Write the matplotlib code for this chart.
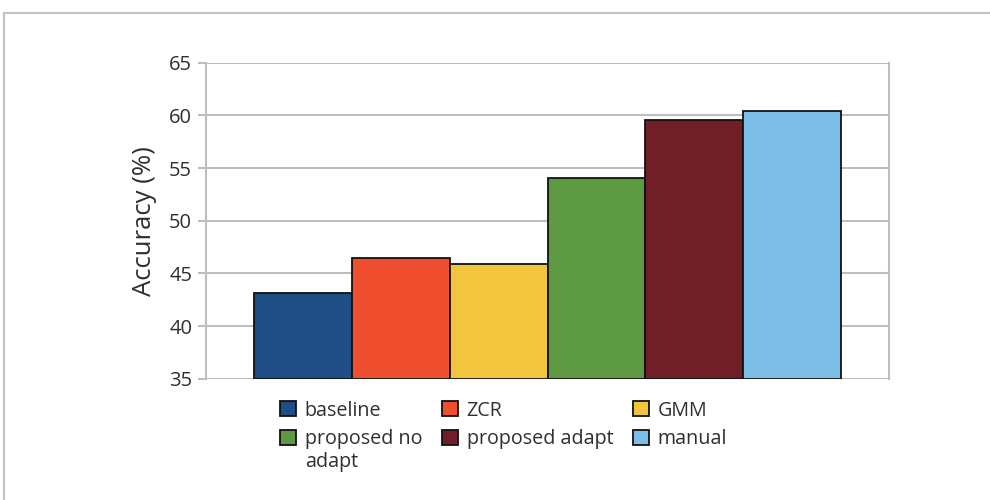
import matplotlib
matplotlib.use("Agg")
import matplotlib.pyplot as plt
from matplotlib.patches import Rectangle, Patch

# Accuracy of each voice-activity method
methods = ["baseline", "ZCR", "GMM", "proposed no adapt", "proposed adapt", "manual"]
accuracy = [43.1, 46.5, 45.85, 54.05, 59.6, 60.4]
colors = ["#1F4E87", "#F04F2F", "#F2C53F", "#5E9A43", "#701E27", "#7BBDE7"]
yticks = [35, 40, 45, 50, 55, 60, 65]

plt.rcParams["font.family"] = ["Open Sans", "DejaVu Sans"]
TEXT = "#2F2F2F"

fig = plt.figure(figsize=(9.9, 5.0), dpi=100)
fig.patch.set_facecolor("white")

# Outer chart-area border (open to the right and bottom)
fig.add_artist(Rectangle((0.004, -0.1), 1.2, 1.074, transform=fig.transFigure,
                         fill=False, edgecolor="#C4C4C4", linewidth=1.5))

ax = fig.add_axes([0.2081, 0.2426, 0.690, 0.632])
x = list(range(len(methods)))
ax.bar(x, [v - yticks[0] for v in accuracy], bottom=yticks[0], width=1.0,
       color=colors, edgecolor="#111111", linewidth=1.3, zorder=3)

ax.set_xlim(-0.995, len(methods) - 1 + 0.995)
ax.set_ylim(yticks[0], yticks[-1])
ax.set_yticks(yticks)
ax.set_xticks([])
ax.yaxis.grid(True, color="#BEBEBE", linewidth=1.5, zorder=0)
for side in ["top", "bottom"]:
    ax.spines[side].set_visible(False)
for side in ["left", "right"]:
    ax.spines[side].set_color("#BEBEBE")
    ax.spines[side].set_linewidth(1.5)
ax.tick_params(axis="y", colors="#BEBEBE", length=6, width=1.5,
               labelcolor=TEXT, labelsize=14.5, pad=4)
ax.set_ylabel("Accuracy (%)", fontsize=18.5, color=TEXT, labelpad=9)

# Legend laid out row-wise in three columns; the long label wraps onto a second line
wrap_first, wrap_rest = "proposed no", "adapt"
labels = [wrap_first if m == "proposed no adapt" else m for m in methods]
handles = [Patch(facecolor=c, edgecolor="#111111", linewidth=1.3) for c in colors]
order = [0, 3, 1, 4, 2, 5]
leg = fig.legend([handles[i] for i in order], [labels[i] for i in order],
                 ncol=3, loc="upper left", bbox_to_anchor=(0.283, 0.199),
                 frameon=False, fontsize=14.2, handlelength=0.8, handleheight=0.8,
                 handletextpad=0.45, columnspacing=1.0, labelspacing=0.45,
                 borderpad=0, borderaxespad=0)
for t in leg.get_texts():
    t.set_color(TEXT)

fig.canvas.draw()
for t in leg.get_texts():
    if t.get_text() == wrap_first:
        bb = t.get_window_extent().transformed(fig.transFigure.inverted())
        fig.text(bb.x0, bb.y0 - 0.006, wrap_rest, fontsize=14.2, color=TEXT,
                 ha="left", va="top")

fig.savefig("out.png", dpi=100, facecolor="white")
